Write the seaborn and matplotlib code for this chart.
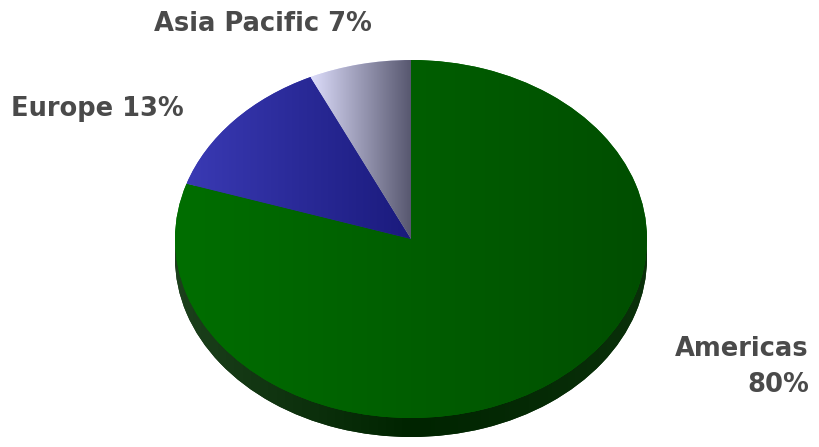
import numpy as np
import matplotlib
matplotlib.use("Agg")
import matplotlib.pyplot as plt
from matplotlib.colors import LinearSegmentedColormap
import seaborn as sns

# data
regions = ["Americas", "Europe", "Asia Pacific"]
shares = [80, 13, 7]

# top face gradients (left colour, right colour)
top_left = ["#006e00", "#3a3ab4", "#dcdcfa"]
top_right = ["#004e00", "#1a1a7c", "#56566e"]
rim_colors = ["#0b2f0b", "#0b2f0b", "#0b2f0b"]

sns.set_style("white")
plt.rcParams['font.family'] = ['DejaVu Sans']

fig = plt.figure(figsize=(8.2, 4.47), dpi=100)
ax = fig.add_axes([0, 0, 1, 1])

# pie geometry in pixels
cx, cy = 411, 239
rx, ry = 236, 179
depth = 19

# rim (3d side) underneath
rim, _ = ax.pie(shares, startangle=90, counterclock=False,
                colors=rim_colors, center=(0, -depth / ry),
                wedgeprops=dict(linewidth=0))
for w in rim:
    w.set_zorder(1)
    bb = w.get_path().get_extents()
    cmap = LinearSegmentedColormap.from_list("rim", ["#1c401c", "#002400", "#0a300a"])
    im = ax.imshow(np.linspace(0, 1, 256).reshape(1, -1), cmap=cmap, aspect="auto",
                   extent=(bb.x0, bb.x1, bb.y0, bb.y1), zorder=1.5)
    im.set_clip_path(w)

# top face
wedges, _ = ax.pie(shares, startangle=90, counterclock=False,
                   colors=top_left, wedgeprops=dict(linewidth=0))
for w, c0, c1 in zip(wedges, top_left, top_right):
    w.set_zorder(2)
    bb = w.get_path().get_extents()
    cmap = LinearSegmentedColormap.from_list("g", [c0, c1])
    im = ax.imshow(np.linspace(0, 1, 256).reshape(1, -1), cmap=cmap, aspect="auto",
                   extent=(bb.x0, bb.x1, bb.y0, bb.y1), zorder=2.5)
    im.set_clip_path(w)

# squash the circle into the tilted ellipse
ax.set_aspect("auto")
ax.set_xlim(-cx / rx, (820 - cx) / rx)
ax.set_ylim(-(447 - cy) / ry, cy / ry)
ax.axis("off")

# labels
txt = dict(color="#4a4a4a", fontsize=18.5, fontweight="bold")
fig.text(263 / 820, 1 - 24 / 447, f"{regions[2]} {shares[2]}%", ha="center", va="center", **txt)
fig.text(97 / 820, 1 - 109 / 447, f"{regions[1]} {shares[1]}%", ha="center", va="center", **txt)
fig.text(809 / 820, 1 - 349 / 447, regions[0], ha="right", va="center", **txt)
fig.text(809 / 820, 1 - 385 / 447, f"{shares[0]}%", ha="right", va="center", **txt)

plt.savefig("out.png", dpi=100)
